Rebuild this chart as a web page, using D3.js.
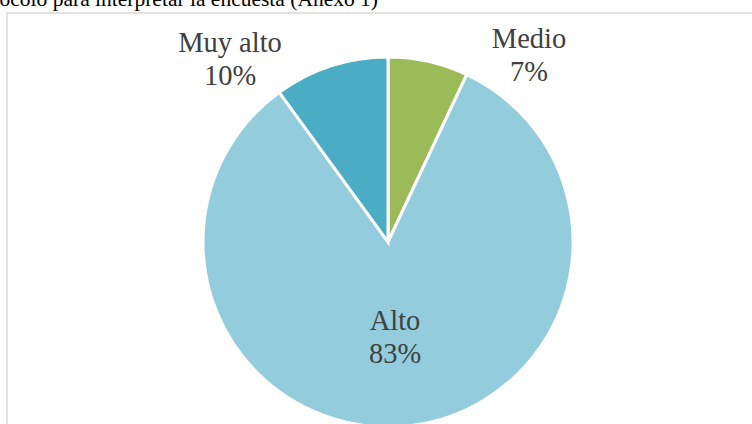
<!DOCTYPE html>
<html>
<head>
<meta charset="utf-8">
<script src="https://cdn.jsdelivr.net/npm/d3@7"></script>
<style>
  body { margin: 0; background: #fff; }
  svg { display: block; }
  text { font-family: "Liberation Serif", "Times New Roman", Times, serif; }
</style>
</head>
<body>
<svg id="chart" width="752" height="424"></svg>
<script>
// slices in drawing order, clockwise from 12 o'clock
const categories = ["Medio", "Alto", "Muy alto"];
const values = [7, 83, 10];
const colors = ["#9bbb59", "#93cddd", "#4bacc6"];

const svg = d3.select("#chart"),
    width = +svg.attr("width"),
    height = +svg.attr("height");

// bit of the document caption that sits above the chart box
svg.append("text")
    .attr("x", 378)
    .attr("y", 6)
    .attr("text-anchor", "end")
    .attr("font-size", 21.5)
    .attr("fill", "#000")
    .text("Protocolo para interpretar la encuesta (Anexo 1)");

// chart frame
svg.append("rect")
    .attr("x", 7)
    .attr("y", 13)
    .attr("width", 900)
    .attr("height", 600)
    .attr("fill", "none")
    .attr("stroke", "#d9d9d9")
    .attr("stroke-width", 1.5);

const cx = 388, cy = 242, r = 185;
const g = svg.append("g").attr("transform", "translate(" + cx + "," + cy + ")");

const data = categories.map((c, i) => ({ cat: c, value: values[i], color: colors[i] }));

const pie = d3.pie()
    .sort(null)
    .value((d) => d.value);

const arc = d3.arc()
    .innerRadius(0)
    .outerRadius(r);

const arcs = pie(data);

g.selectAll("path")
    .data(arcs)
  .enter().append("path")
    .attr("d", arc)
    .attr("fill", (d) => d.data.color)
    .attr("stroke", "#fff")
    .attr("stroke-width", 3)
    .attr("stroke-linejoin", "miter");

// label positions (relative to the pie centre), two lines each
const labelPos = {
  "Medio": [141, -194],
  "Alto": [7, 88],
  "Muy alto": [-158, -190]
};

const labels = g.selectAll("text.lbl")
    .data(arcs)
  .enter().append("text")
    .attr("class", "lbl")
    .attr("text-anchor", "middle")
    .attr("font-size", 28.5)
    .attr("fill", "#404040")
    .attr("transform", (d) => "translate(" + labelPos[d.data.cat] + ")");

labels.append("tspan")
    .attr("x", 0)
    .attr("y", 0)
    .text((d) => d.data.cat);
labels.append("tspan")
    .attr("x", 0)
    .attr("y", 33)
    .text((d) => d3.format(".0%")(d.data.value / d3.sum(values)));
</script>
</body>
</html>
